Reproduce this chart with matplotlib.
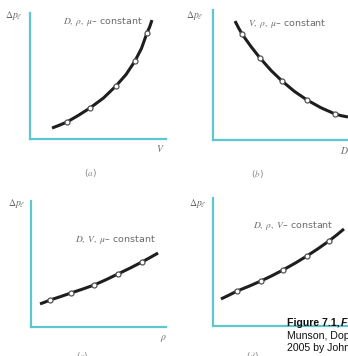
import matplotlib.pyplot as plt

plt.rcParams['mathtext.fontset'] = 'stix'

W, H = 348, 356
TEAL = "#5ec6ce"
INK = "#1e1e1e"
GREY = "#6a6a6a"

# curve points per panel (axis units 0..10)
a_x = [1.62, 2.15, 2.72, 3.55, 4.41, 5.40, 6.32, 7.05, 7.72, 8.20, 8.60, 8.80, 8.97]
a_y = [0.87, 1.09, 1.35, 1.87, 2.46, 3.25, 4.21, 5.10, 6.19, 7.20, 8.41, 8.90, 9.44]
b_x = [1.63, 1.89, 2.15, 2.82, 3.48, 4.30, 5.11, 6.03, 6.96, 8.00, 9.04, 9.50, 10.0]
b_y = [9.15, 8.63, 8.15, 7.18, 6.31, 5.35, 4.54, 3.74, 3.08, 2.48, 2.00, 1.87, 1.77]
c_x = [0.67, 1.04, 1.41, 2.18, 2.96, 3.80, 4.67, 5.55, 6.44, 7.33, 8.22, 8.80, 9.41]
c_y = [1.83, 1.98, 2.14, 2.41, 2.70, 3.00, 3.33, 3.75, 4.21, 4.67, 5.16, 5.50, 5.87]
d_x = [0.59, 1.18, 1.78, 2.67, 3.56, 4.37, 5.19, 6.07, 6.96, 7.78, 8.59, 9.15, 9.70]
d_y = [2.11, 2.41, 2.73, 3.11, 3.52, 3.93, 4.38, 4.90, 5.47, 6.04, 6.64, 7.10, 7.58]
# which of those points carry an open circle
marker_idx = [2, 4, 6, 8, 10]

panel_tags = ["a", "b", "c", "d"]
const_labels = [r"$D,\ \rho,\ \mu$– constant",
                r"$V,\ \rho,\ \mu$– constant",
                r"$D,\ V,\ \mu$– constant",
                r"$D,\ \rho,\ V$– constant"]
x_vars = [r"$V$", r"$D$", r"$\rho$", ""]

fig = plt.figure(figsize=(W / 100, H / 100), dpi=100)


def px(x, y):
    return x / W, 1 - y / H


def add_panel(left, bottom, right, top, xs, ys):
    ax = fig.add_axes([left / W, 1 - bottom / H, (right - left) / W, (bottom - top) / H])
    ax.set_xlim(0, 10)
    ax.set_ylim(0, 10)
    for s in ["top", "right"]:
        ax.spines[s].set_visible(False)
    for s in ["left", "bottom"]:
        ax.spines[s].set_color(TEAL)
        ax.spines[s].set_linewidth(1.6)
    ax.set_xticks([])
    ax.set_yticks([])
    ax.patch.set_alpha(0)
    ax.plot(xs, ys, color=INK, lw=2.2, solid_capstyle="butt",
            solid_joinstyle="round", clip_on=False)
    ax.plot([xs[i] for i in marker_idx], [ys[i] for i in marker_idx], "o",
            ms=3.6, mfc="white", mec="#555555", mew=0.9, clip_on=False)
    return ax


add_panel(30, 139, 166, 13, a_x, a_y)
add_panel(213, 140, 348, 10, b_x, b_y)
add_panel(31, 327, 166, 201, c_x, c_y)
add_panel(213, 326, 348, 198, d_x, d_y)

# y labels
for (x, y) in [(14, 15), (195, 16), (17, 203), (198, 203)]:
    fig.text(*px(x, y), r"$\Delta p_\ell$", fontsize=7, color=GREY, ha="center", va="center")

# constant labels
for (x, y), t in zip([(63, 22), (248, 23), (75, 240), (253, 225)], const_labels):
    fig.text(*px(x, y), t, fontsize=6.8, color=GREY, ha="left", va="center")

# x variable labels
for (x, y), t in zip([(160, 148), (344, 150), (163, 338), (340, 336)], x_vars):
    fig.text(*px(x, y), t, fontsize=7, color=GREY, ha="center", va="center")

# panel tags (bottom row is cut by the image edge, as in the source scan)
for (x, y), t in zip([(90, 173), (257, 174), (82, 356), (252, 356)], panel_tags):
    fig.text(*px(x, y), "($" + t + "$)", fontsize=6.5, color="#888888", ha="center", va="center")

# caption
cap = dict(family="Liberation Sans", fontsize=7.6, color="#111111", ha="left", va="center")
fig.text(*px(287, 323), "Figure 7.1, ", fontweight="bold", **cap)
fig.text(*px(341, 323), "F", fontweight="bold", style="italic", **cap)
fig.text(*px(287, 336), "Munson, Dop", **cap)
fig.text(*px(287, 348), "2005 by John", **cap)

fig.savefig("out.png", dpi=100)
